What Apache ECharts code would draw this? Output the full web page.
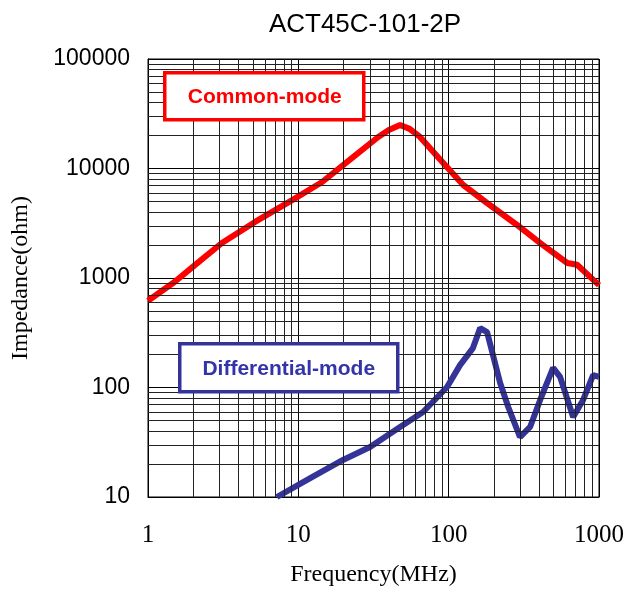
<!DOCTYPE html>
<html>
<head>
<meta charset="utf-8">
<script src="https://cdn.jsdelivr.net/npm/echarts@6/dist/echarts.min.js"></script>
<style>
html, body { margin: 0; padding: 0; background: #fff; }
#main { width: 640px; height: 592px; }
</style>
</head>
<body>
<div id="main"></div>
<script>
// common-mode curve, MHz / ohm
var cmFreq = [1, 1.5, 2.05, 3.1, 5.15, 9.1, 14.4, 22.8, 34, 40, 47.5, 55, 64.5, 88, 125, 180, 285, 405, 615, 715, 1000];
var cmImp = [620, 920, 1310, 2090, 3250, 5150, 7530, 12500, 19400, 22500, 25000, 23000, 19400, 12000, 7070, 4840, 3050, 2090, 1370, 1320, 860];
// differential-mode curve
var dmFreq = [7.2, 12, 19.8, 30, 47.5, 67.6, 97.6, 119, 145, 162, 180, 220, 249, 298, 348, 406, 495, 551, 673, 784, 914, 1000];
var dmImp = [10, 14.9, 21.8, 28.6, 43.6, 59.7, 101, 160, 229, 349, 321, 110, 66.4, 35.3, 43.6, 76.9, 151, 125, 53.8, 76.9, 130, 125];
// minor grid lines of the log paper
var xMinor = [2, 3, 4, 5, 6, 7, 8, 9, 20, 30, 40, 50, 60, 70, 80, 90, 200, 300, 400, 500, 600, 700, 800, 900];
var yMinor = [20, 30, 40, 50, 60, 70, 80, 90, 200, 300, 400, 500, 600, 700, 800, 900,
    2000, 3000, 4000, 5000, 6000, 7000, 8000, 9000, 20000, 30000, 40000, 50000, 60000, 70000, 80000, 90000];

function pairs(xs, ys) {
    var ret = [];
    for (var i = 0; i < xs.length; i++) {
        ret.push([xs[i], ys[i]]);
    }
    return ret;
}

function plain(v) {
    return String(Math.round(v));
}

var gridLines = [];
for (var i = 0; i < xMinor.length; i++) gridLines.push({ xAxis: xMinor[i] });
for (var j = 0; j < yMinor.length; j++) gridLines.push({ yAxis: yMinor[j] });

var myChart = echarts.init(document.getElementById('main'));
var option = {
    animation: false,
    backgroundColor: '#fff',
    title: {
        text: 'ACT45C-101-2P',
        left: 360,
        textAlign: 'center',
        top: 7,
        textStyle: { fontFamily: 'Liberation Sans', fontWeight: 'normal', fontSize: 26, color: '#000' }
    },
    grid: {
        left: 148, right: 41, top: 59, bottom: 95,
        show: true, borderColor: '#000', borderWidth: 1
    },
    xAxis: {
        type: 'log', logBase: 10, min: 1, max: 1000,
        name: 'Frequency(MHz)', nameLocation: 'middle', nameGap: 66,
        nameTextStyle: { fontFamily: 'Liberation Serif', fontSize: 24, color: '#000' },
        axisLine: { lineStyle: { color: '#000' } },
        axisTick: { show: false },
        axisLabel: { fontFamily: 'Liberation Serif', fontSize: 25, color: '#000', margin: 26, formatter: plain },
        splitLine: { show: true, lineStyle: { color: '#000', width: 1 } }
    },
    yAxis: {
        type: 'log', logBase: 10, min: 10, max: 100000,
        name: 'Impedance(ohm)', nameLocation: 'middle', nameRotate: 90, nameGap: 115,
        nameTextStyle: { fontFamily: 'Liberation Serif', fontSize: 24, color: '#000' },
        axisLine: { lineStyle: { color: '#000' } },
        axisTick: { show: false },
        axisLabel: { fontFamily: 'Liberation Sans', fontSize: 23, color: '#000', margin: 18, formatter: plain },
        splitLine: { show: true, lineStyle: { color: '#000', width: 1 } }
    },
    series: [
        {
            name: 'grid',
            type: 'line',
            data: [],
            silent: true,
            z: 1,
            markLine: {
                silent: true,
                symbol: 'none',
                label: { show: false },
                lineStyle: { color: '#222', width: 1, type: 'solid' },
                emphasis: { disabled: true },
                data: gridLines
            }
        },
        {
            name: 'Common-mode',
            type: 'line',
            showSymbol: false,
            z: 3,
            lineStyle: { color: '#ff0000', width: 6 },
            data: pairs(cmFreq, cmImp)
        },
        {
            name: 'Differential-mode',
            type: 'line',
            showSymbol: false,
            z: 3,
            lineStyle: { color: '#333399', width: 6 },
            data: pairs(dmFreq, dmImp)
        }
    ],
    graphic: [
        {
            type: 'group', left: 163, top: 71, z: 100,
            children: [
                { type: 'rect', z: 100, shape: { x: 0, y: 0, width: 199, height: 47 }, style: { fill: '#fff', stroke: '#ff0000', lineWidth: 3.5 } },
                { type: 'text', z: 101, x: 100, y: 24, style: { text: 'Common-mode', fill: '#ff0000', font: 'bold 21px "Liberation Sans"', align: 'center', verticalAlign: 'middle' } }
            ]
        },
        {
            type: 'group', left: 178, top: 342, z: 100,
            children: [
                { type: 'rect', z: 100, shape: { x: 0, y: 0, width: 218, height: 48 }, style: { fill: '#fff', stroke: '#333399', lineWidth: 3.5 } },
                { type: 'text', z: 101, x: 109, y: 25, style: { text: 'Differential-mode', fill: '#3333aa', font: 'bold 21px "Liberation Sans"', align: 'center', verticalAlign: 'middle' } }
            ]
        }
    ]
};
myChart.setOption(option);
</script>
</body>
</html>
